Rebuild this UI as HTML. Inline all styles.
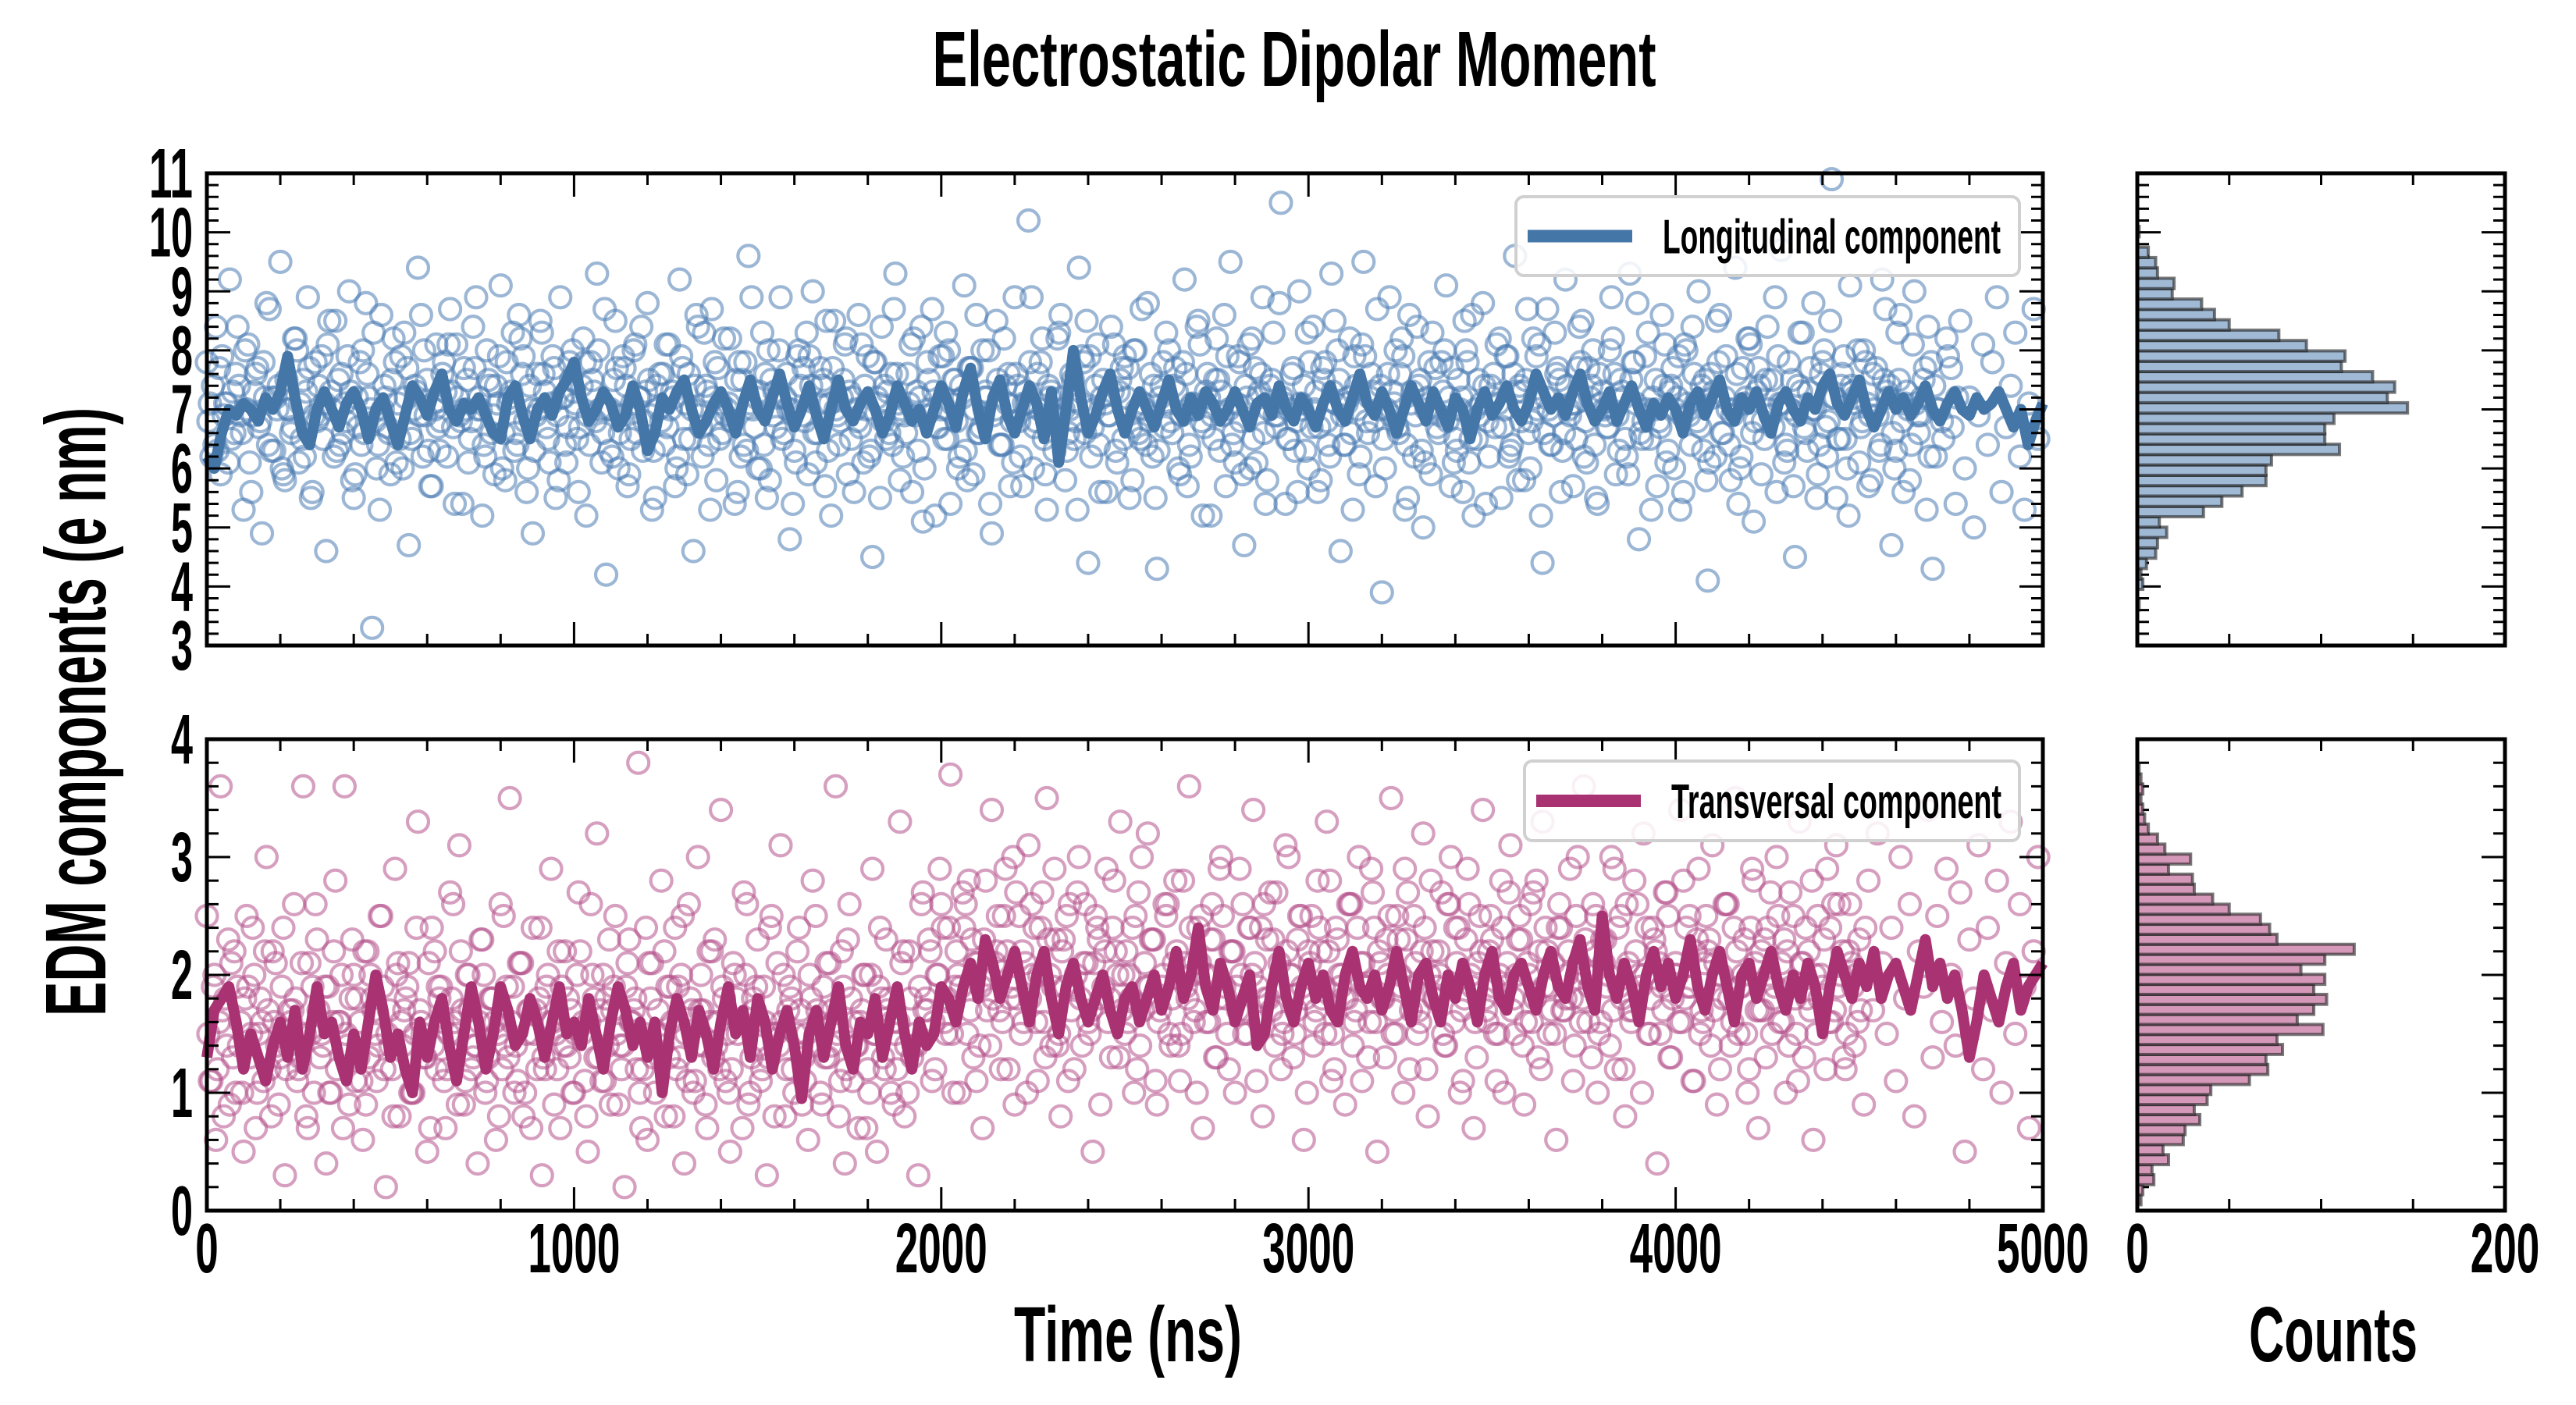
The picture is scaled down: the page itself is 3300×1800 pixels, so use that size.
<!DOCTYPE html>
<html><head><meta charset="utf-8"><style>
html,body{margin:0;padding:0;background:#fff}
svg{display:block}
text{font-family:"Liberation Sans Narrow","Liberation Sans",sans-serif;font-weight:bold;fill:#000}
</style></head><body>
<svg id="chart" xmlns="http://www.w3.org/2000/svg" width="3300" height="1800" viewBox="0 0 3300 1800">
<text x="1658" y="110" font-size="100" text-anchor="middle" textLength="927" lengthAdjust="spacingAndGlyphs">Electrostatic Dipolar Moment</text>
<text transform="translate(135,912) rotate(-90)" font-size="110" text-anchor="middle" textLength="780" lengthAdjust="spacingAndGlyphs">EDM components (e nm)</text>
<text x="1445" y="1744" font-size="100" text-anchor="middle" textLength="292" lengthAdjust="spacingAndGlyphs">Time (ns)</text>
<text x="2989" y="1744" font-size="100" text-anchor="middle" textLength="216" lengthAdjust="spacingAndGlyphs">Counts</text>
<g id="layer"></g>
</svg>
<script>
// ---- data ----
const lineTimesStep = 20;
const longLine = [6.2,6.0,6.6,7.0,6.9,7.1,7.0,6.8,7.2,7.0,7.3,7.9,7.2,6.6,6.4,7.0,7.3,7.0,6.7,7.1,7.3,7.0,6.5,7.0,7.2,6.8,6.4,6.9,7.4,7.2,6.9,7.3,7.6,7.0,6.8,7.1,7.0,7.2,6.9,6.6,6.5,7.2,7.4,6.9,6.5,7.0,7.2,6.9,7.3,7.5,7.8,7.2,6.8,7.0,7.3,7.1,6.7,6.9,7.4,7.0,6.3,6.6,7.2,7.0,7.3,7.5,7.0,6.6,6.8,7.1,7.3,7.0,6.6,7.1,7.5,7.0,6.8,7.2,7.6,7.1,6.7,7.0,7.4,6.9,6.5,7.0,7.5,7.0,6.8,7.1,7.3,7.0,6.6,6.9,7.4,7.1,6.8,7.0,6.6,7.0,7.4,7.1,6.7,7.3,7.7,7.0,6.5,7.2,7.5,6.9,6.6,7.0,7.4,7.1,6.5,7.3,6.1,7.0,8.0,7.2,6.6,6.9,7.3,7.6,7.0,6.6,7.0,7.3,7.0,6.7,7.1,7.5,7.0,6.8,7.2,6.9,7.3,7.1,6.8,7.0,7.3,7.0,6.7,7.1,7.2,6.9,7.4,7.0,6.8,7.2,7.0,6.7,7.1,7.4,7.0,6.8,7.2,7.6,7.1,6.9,7.3,7.0,6.6,7.0,7.4,7.1,6.8,7.3,7.0,6.7,7.2,7.0,6.5,7.0,7.3,6.9,7.1,7.4,7.0,6.8,7.1,7.6,7.3,7.0,7.2,6.9,7.3,7.6,7.1,6.8,7.0,7.3,6.8,7.1,7.4,7.0,6.7,7.1,6.9,7.2,7.0,6.6,7.1,7.3,6.9,7.2,7.5,7.0,6.8,7.2,7.0,7.3,6.9,6.6,7.1,7.3,7.0,6.8,7.2,7.0,7.4,7.6,7.1,6.9,7.2,7.5,7.0,6.7,7.0,7.3,7.0,7.2,6.9,7.1,7.4,7.0,6.8,7.1,7.3,7.0,6.9,7.2,7.0,7.1,7.3,7.0,6.7,7.0,6.4,6.8,7.1];
const transLine = [1.3,1.7,1.8,1.9,1.6,1.2,1.5,1.3,1.1,1.4,1.6,1.3,1.7,1.2,1.5,1.9,1.5,1.6,1.3,1.1,1.5,1.2,1.6,2.0,1.7,1.3,1.5,1.2,1.0,1.6,1.3,1.6,1.8,1.4,1.1,1.5,1.9,1.6,1.2,1.5,1.9,1.7,1.4,1.5,1.8,1.6,1.3,1.6,1.9,1.5,1.6,1.4,1.8,1.5,1.2,1.6,1.9,1.7,1.4,1.6,1.3,1.6,1.0,1.5,1.8,1.6,1.3,1.7,1.5,1.2,1.6,1.9,1.5,1.7,1.3,1.8,1.6,1.2,1.5,1.7,1.4,0.95,1.5,1.7,1.3,1.6,1.9,1.4,1.2,1.6,1.5,1.8,1.3,1.6,1.9,1.5,1.2,1.6,1.4,1.5,1.9,1.8,1.6,1.9,2.1,1.8,2.3,2.1,1.8,2.0,2.2,1.9,1.6,2.0,2.2,1.8,1.5,1.9,2.1,1.8,1.6,1.8,2.0,1.7,1.5,1.8,1.9,1.6,1.8,2.0,1.7,1.9,2.2,1.8,2.0,2.4,1.9,1.7,2.1,1.9,1.6,1.8,2.0,1.4,1.5,1.9,2.2,1.8,1.6,1.9,2.1,1.8,2.0,1.7,1.6,2.0,2.2,1.9,1.8,2.0,1.7,1.9,2.2,1.9,1.6,2.0,2.1,1.8,1.6,2.0,1.8,2.1,1.9,1.6,2.0,2.2,1.8,1.7,2.0,2.1,1.9,1.7,2.0,2.2,1.9,1.8,2.1,2.3,1.9,1.7,2.5,2.0,1.8,2.1,1.9,1.6,2.0,2.2,1.9,2.1,1.8,2.0,2.3,1.9,1.7,2.0,2.2,1.9,1.6,2.0,2.1,1.8,2.0,2.2,1.9,1.7,2.0,1.8,2.1,1.9,1.5,1.9,2.2,2.0,1.8,2.1,1.9,2.2,1.8,2.0,2.1,1.9,1.7,2.0,2.3,1.9,2.1,1.8,2.0,1.7,1.3,1.6,2.0,1.8,1.6,1.9,2.1,1.7,1.9,2.0,2.1];
const scatterStep = 12.5;
const longPts = [7.8,6.2,8.4,5.9,7.1,9.2,6.6,7.4,5.3,8.1,6.9,7.7,4.9,8.8,6.3,7.2,9.5,5.8,7.0,8.2,6.1,7.5,8.9,5.6,6.8,7.9,4.6,7.3,8.5,6.4,7.1,9.0,5.5,6.7,8.0,7.6,3.3,6.0,8.6,7.2,5.9,7.8,6.5,8.3,4.7,7.0,9.4,6.2,7.5,5.7,8.1,6.8,7.3,8.7,5.4,6.9,7.7,6.1,8.4,7.0,5.2,8.0,6.6,7.4,9.1,5.8,7.2,6.3,8.6,7.9,6.0,4.9,7.6,8.3,6.7,7.1,5.5,8.9,6.4,7.8,7.3,5.6,8.2,6.9,7.5,9.3,6.1,4.2,7.0,8.5,6.6,7.7,5.9,8.0,7.2,6.3,8.8,5.3,7.4,6.8,8.1,7.0,5.7,9.2,6.5,7.6,4.6,8.4,6.2,7.3,8.7,5.8,7.1,6.9,8.2,5.4,7.8,6.4,9.6,7.0,6.0,8.3,5.5,7.5,6.7,8.9,7.2,4.8,6.3,8.0,7.7,5.9,9.0,6.6,7.4,8.5,5.2,7.0,6.8,8.1,7.3,5.6,8.6,6.1,7.9,4.5,7.2,8.4,6.5,7.6,9.3,5.8,6.9,7.1,8.2,6.3,5.1,7.8,8.7,6.7,7.0,8.3,5.4,7.5,6.2,9.1,7.7,5.9,6.6,8.0,7.2,4.9,8.5,6.4,7.4,5.7,8.9,6.8,7.1,10.2,6.0,7.6,8.2,5.3,7.3,6.9,8.6,5.8,7.0,6.5,9.4,7.8,4.4,6.7,8.1,7.2,5.6,8.4,6.3,7.5,7.9,5.5,8.0,6.6,7.1,8.8,6.2,4.3,7.4,8.3,6.8,7.7,5.9,9.2,6.4,7.0,8.5,5.2,7.6,6.9,8.2,7.3,5.7,9.5,6.1,7.8,4.7,8.1,6.5,7.2,8.9,5.8,7.5,6.7,10.5,5.4,7.0,6.3,9.0,7.4,6.0,8.4,5.6,7.7,6.8,9.3,7.1,4.6,6.4,8.2,7.9,5.9,9.5,6.6,7.3,8.7,3.9,7.0,6.9,8.0,7.6,5.3,8.6,6.2,7.4,5.0,7.2,8.3,6.7,7.8,9.1,5.7,6.5,7.0,8.5,6.1,5.2,7.5,8.8,6.8,7.2,8.1,5.5,7.9,6.3,9.6,7.4,5.8,6.6,8.2,7.0,4.4,8.7,6.4,7.6,5.6,9.2,6.9,7.1,8.4,6.2,7.7,8.0,5.4,7.3,6.7,8.9,5.9,7.5,6.5,9.3,7.8,4.8,6.8,8.3,7.2,5.7,8.6,6.1,7.4,7.0,5.3,8.1,6.9,7.6,9.0,6.3,4.1,7.2,8.5,6.6,7.9,5.8,9.4,6.0,7.1,8.2,5.1,7.7,6.8,8.4,7.5,5.6,9.7,6.4,7.0,4.5,8.3,6.7,7.3,8.8,5.9,7.8,6.2,10.9,5.5,7.4,6.5,9.1,7.2,6.1,8.0,5.7,7.6,6.9,9.2,7.3,4.7,6.3,8.6,7.1,5.8,9.0,6.6,7.5,8.4,4.3,7.0,6.8,8.2,7.7,5.4,8.5,6.0,7.2,5.0,6.9,8.1,6.4,7.8,8.9,5.6,6.7,7.4,8.3,6.2,5.3,7.1,8.7,6.5];
const longPts2 = [6.8,7.4,6.3,7.9,7.1,6.5,7.6,6.9,8.0,6.1,7.3,6.7,7.8,6.4,7.2,7.0,6.0,7.5,6.6,8.2,7.1,6.2,7.7,6.9,7.4,6.5,8.1,7.0,6.3,7.6,6.8,7.3,5.9,7.8,6.6,7.2,8.3,6.4,7.0,6.7,7.5,6.1,7.9,7.2,6.6,7.4,6.9,8.0,6.3,7.1,6.7,7.6,6.2,7.3,8.1,6.8,7.0,6.5,7.7,7.2,6.4,7.5,6.9,7.1,6.0,7.8,7.3,6.6,8.2,6.8,7.4,6.3,7.0,7.6,6.5,7.9,6.9,7.2,6.1,7.5,7.1,6.7,7.8,6.4,7.3,8.0,6.6,7.0,6.2,7.7,6.9,7.4,6.5,8.1,7.2,6.8,7.5,6.3,7.0,7.6,6.7,7.3,6.0,7.9,7.1,6.5,7.4,6.9,8.3,6.4,7.2,7.7,6.6,7.0,6.8,7.5,6.2,7.8,7.1,6.7,7.3,6.4,8.0,6.9,7.2,6.5,7.6,7.0,6.1,7.4,6.8,7.9,6.6,7.1,7.5,6.3,7.7,6.9,7.2,8.2,6.5,7.0,6.7,7.4,6.2,7.8,7.1,6.8,7.3,6.4,7.6,7.0,6.6,8.1,6.9,7.2,6.0,7.5,7.3,6.7,7.9,6.5,7.1,6.8,7.4,6.3,7.7,7.0,6.6,7.2,8.0,6.9,7.5,6.4,7.1,6.8,7.6,6.2,7.3,7.8,6.7,7.0,6.5,7.4,6.9,8.2,7.2,6.3,7.6,6.8,7.1,6.6,7.9,7.0,6.4,7.5,6.9,7.3,6.1,7.7,7.2,6.7,8.0,6.5,7.0,6.8,7.4,6.3,7.8,7.1,6.6,7.3,6.9,7.6,6.2,7.0,8.1,6.7,7.2,6.5,7.5,6.9,7.9,6.4,7.1,6.8,7.4,6.0,7.7,7.3,6.6,7.0,8.3,6.9,7.2,6.5,7.6,6.8,7.1,6.3,7.8,7.0,6.7,7.5,6.4,7.3,8.0,6.9,7.1,6.6,7.4,6.2,7.9,7.2,6.8,7.0,6.5,7.6,7.3,6.7,8.2,6.4,7.1,6.9,7.5,6.1,7.8,7.0,6.6,7.3,6.8,7.7,6.3,7.2,8.0,6.5,7.0,6.9,7.4,6.2,7.6,7.1,6.7,7.9,6.4,7.3,6.8,7.5,6.0,7.2,8.1,6.6,7.0,6.9,7.7,6.3,7.4,7.1,6.5,7.8,6.8,7.2,6.4,7.6,7.0,6.7,8.2,6.9,7.3,6.2,7.5,7.1,6.6,7.9,6.5,7.0,6.8,7.4,6.3,7.7,7.2,6.9,8.0,6.4,7.1,6.7,7.5,6.1,7.3,7.8,6.6,7.0,6.9,7.6,6.2,7.2,8.1,6.8,7.4,6.5,7.0,6.7,7.9,7.1,6.3,7.5,6.9,7.3,6.6,7.7,7.0,6.4,8.0,6.8,7.2,6.5,7.6,6.0,7.4,7.1,6.7,7.8,6.9,7.0,6.3,7.5,7.2,6.6,8.3,6.8,7.3,6.4,7.1,6.9,7.7,6.2,7.4,7.0,6.5,7.9,6.7,7.2];
const longPts3 = [7.1,6.4,7.7,6.9,6.1,7.3,8.4,6.6,7.0,5.6,7.6,6.8,7.2,8.7,6.3,7.4,5.9,7.0,6.7,8.0,6.5,7.3,5.5,7.8,6.9,7.1,8.5,6.2,7.5,6.6,7.9,5.8,7.2,6.4,8.8,7.0,6.8,5.3,7.4,6.6,8.2,7.1,6.0,7.7,6.5,7.3,8.6,6.9,5.7,7.0,6.3,7.8,8.1,6.7,7.2,5.4,7.5,6.8,8.9,7.0,6.2,7.4,5.9,7.9,6.6,7.1,8.3,6.4,7.6,5.6,7.0,6.9,8.5,7.3,6.1,7.7,5.8,7.2,6.7,8.0,6.5,7.4,5.2,7.8,6.8,7.0,8.7,6.3,7.5,6.0,7.9,5.7,7.1,6.6,8.4,7.3,6.9,5.5,7.6,6.4,8.1,7.2,6.2,7.7,5.9,7.0,8.6,6.7,7.4,5.3,7.8,6.5,8.2,7.1,6.8,5.6,7.5,6.3,8.9,7.2,6.0,7.6,5.8,7.3,8.0,6.6,7.0,5.4,7.9,6.9,8.3,7.4,6.1,7.7,5.7,7.1,8.5,6.4,7.5,5.9,7.2,6.8,8.1,7.0,6.3,7.8,5.5,7.4,6.6,8.7,7.1,6.2,7.6,5.6,7.3,8.4,6.9,7.0,5.2,7.9,6.5,8.0,7.5,6.0,7.2,5.8,7.7,8.6,6.7,7.3,5.4,7.0,6.4,8.2,7.6,6.1,7.4,5.7,7.1,8.9,6.8,7.8,5.9,7.2,6.3,8.3,7.0,6.6,7.5,5.3,7.9,8.5,6.2,7.4,5.6,7.1,6.9,8.1,7.3,6.5,7.7,5.8,7.0,8.7,6.4,7.6,5.5,7.2,6.7,8.0,7.4,6.0,7.8,5.7,7.1,8.4,6.8,7.3,5.2,7.5,6.3,8.6,7.0,6.6,7.9,5.9,7.2,8.2,6.1,7.6,5.4,7.4,6.9,8.8,7.1,6.5,7.7,5.6,7.0,8.3,6.7,7.3,5.8,7.8,6.2,8.5,7.5,6.4,7.2,5.3,7.0,8.1,6.8,7.6,5.7,7.4,6.0,8.9,7.1,6.6,7.9,5.5,7.3,8.4,6.3,7.0,5.9,7.7,6.9,8.0,7.2,6.1,7.5,5.6,7.8,8.6,6.5,7.1,5.4,7.4,6.7,8.2,7.0,6.2,7.6,5.8,7.3,8.7,6.8,7.9,5.2,7.2,6.4,8.3,7.5,6.6,7.0,5.7,7.7,8.5,6.1,7.4,5.5,7.1,6.9,8.0,7.6,6.3,7.2,5.9,7.8,8.8,6.5,7.0,5.3,7.5,6.7,8.1,7.3,6.0,7.9,5.6,7.1,8.4,6.8,7.4,5.8,7.6,6.2,8.6,7.2,6.4,7.0,5.4,7.7,8.2,6.6,7.3,5.9,7.5,6.9,8.9,7.1,6.1,7.8,5.7,7.4,8.3,6.3,7.0,5.5,7.6,6.7,8.5,7.2,6.5,7.9,5.2,7.3,8.0,6.8,7.1,5.8,7.7,6.4,8.7,7.4,6.0,7.5,5.6,7.0,8.1,6.9,7.2,5.3,7.8,6.2];
const transPts = [2.5,1.1,0.6,3.6,1.8,0.9,2.2,1.4,0.5,1.9,2.4,1.0,1.6,3.0,0.8,2.1,1.3,0.3,1.7,2.6,1.2,3.6,0.7,1.9,2.3,1.5,0.4,1.0,2.8,1.6,3.6,0.9,2.0,1.3,0.6,2.2,1.8,1.1,2.5,0.2,1.4,2.9,0.8,1.7,2.1,1.0,3.3,1.5,0.5,2.4,1.2,1.9,0.7,2.7,1.6,3.1,0.9,2.0,1.3,0.4,2.3,1.1,1.8,0.6,2.6,1.4,3.5,1.0,2.1,0.8,1.7,2.4,1.2,0.3,1.9,2.9,1.5,0.7,2.2,1.3,1.0,2.7,1.6,0.5,2.0,3.2,1.1,1.8,0.9,2.5,1.4,0.2,2.3,1.7,3.8,1.2,0.6,2.1,1.5,2.8,0.8,1.9,2.4,1.3,0.4,2.6,1.0,3.0,1.7,0.7,2.2,1.4,3.4,1.1,0.5,2.0,1.6,2.7,0.9,1.8,2.3,1.2,0.3,2.5,1.5,3.1,0.8,1.9,1.0,2.4,1.3,0.6,2.8,1.7,0.9,2.1,1.4,3.6,1.1,0.4,2.6,1.6,0.7,2.0,1.2,2.9,0.5,1.8,2.3,1.0,1.5,3.3,0.8,2.2,1.4,0.3,2.7,1.7,1.1,2.0,2.6,1.5,3.7,1.9,1.0,2.4,2.8,1.3,2.1,0.7,1.7,3.4,2.2,1.2,2.9,1.8,0.9,2.5,1.6,3.1,2.0,1.1,2.7,3.5,1.4,2.3,0.8,1.9,2.6,1.2,3.0,2.1,1.6,0.5,2.4,1.8,2.9,1.3,2.2,3.3,1.5,2.0,1.0,2.7,1.7,3.2,2.3,0.9,1.9,2.5,1.4,2.8,1.1,2.1,3.6,1.6,2.4,0.7,2.0,2.6,1.3,3.0,1.8,2.2,1.0,2.9,1.5,2.4,3.4,1.9,0.8,2.3,1.7,2.7,1.2,3.1,2.0,1.5,2.5,0.6,2.2,1.4,2.8,1.8,3.3,1.1,2.4,1.9,0.9,2.6,1.6,3.0,2.1,1.3,2.7,0.5,1.8,2.3,3.5,1.5,2.0,2.9,1.2,2.5,1.7,3.2,0.8,2.2,1.9,2.7,1.4,3.0,2.4,1.0,1.8,2.6,0.7,2.1,3.4,1.6,2.3,1.1,2.8,1.9,3.1,1.5,2.5,0.9,2.0,2.7,1.3,3.3,2.2,1.7,0.6,2.4,1.8,2.9,1.4,2.1,3.6,1.6,2.6,1.0,2.3,1.9,3.0,1.2,2.5,0.8,1.7,2.8,2.0,3.2,1.5,2.4,0.4,1.9,2.7,1.3,2.1,3.4,1.8,2.5,1.1,2.9,1.6,2.2,3.1,0.9,2.0,2.6,1.4,3.5,1.9,2.3,1.2,2.8,0.7,1.7,2.4,1.5,3.0,2.1,1.0,2.7,1.8,3.3,1.3,2.2,0.6,2.5,1.9,2.9,1.6,3.1,2.0,1.2,2.6,1.4,2.3,0.9,2.8,1.7,3.2,2.1,1.5,2.4,1.1,3.0,1.8,2.6,0.8,2.2,1.9,3.4,1.3,2.5,1.6,2.9,2.0,1.4,2.7,0.5,2.3,1.8,3.1,1.2,2.4,1.7,2.8,1.0,2.1,3.3,1.5,2.6,1.9,0.7,2.2,3.0];
const transPts2 = [1.5,1.9,1.2,1.7,1.4,2.1,1.0,1.6,1.8,1.3,2.0,1.5,1.1,1.7,2.2,1.4,1.9,1.2,1.6,1.8,1.3,1.5,2.1,1.0,1.7,1.4,1.9,1.6,1.2,2.0,1.5,1.8,1.1,1.6,2.2,1.3,1.7,1.4,1.9,1.5,1.2,2.0,1.6,1.8,1.0,1.5,1.7,1.3,2.1,1.4,1.9,1.6,1.2,1.8,1.5,2.2,1.1,1.7,1.4,1.6,2.0,1.3,1.8,1.5,1.2,1.9,1.6,1.4,2.1,1.0,1.7,1.5,1.8,1.3,2.0,1.6,1.2,1.9,1.4,1.7,1.5,2.2,1.1,1.6,1.8,1.3,2.0,1.4,1.7,1.5,1.2,1.9,1.6,1.8,1.0,1.5,2.1,1.3,1.7,1.4,1.9,1.6,1.2,2.0,1.5,1.8,1.1,1.7,1.4,2.2,1.3,1.6,1.9,1.5,1.2,1.8,1.6,2.0,1.0,1.7,1.4,1.9,1.3,1.5,2.1,1.6,1.2,1.8,1.5,1.7,1.1,2.0,1.4,1.6,1.9,1.3,1.7,1.5,2.2,1.2,1.8,1.4,1.6,2.0,1.0,1.5,1.9,1.3,1.7,1.6,1.2,2.1,1.4,1.8,1.5,1.9,1.7,2.3,1.6,2.0,2.4,1.8,1.5,2.2,1.9,2.6,1.7,2.1,1.4,2.3,2.0,1.8,2.5,1.6,2.2,1.9,2.7,1.5,2.1,1.8,2.4,2.0,1.6,2.3,1.9,1.4,2.2,2.5,1.7,2.0,1.8,2.6,1.5,2.1,2.3,1.9,1.6,2.4,2.0,1.7,2.2,1.8,2.5,1.4,2.1,1.9,2.3,1.6,2.0,2.6,1.8,2.2,1.5,1.9,2.4,1.7,2.1,2.0,1.6,2.3,1.8,2.5,1.5,2.2,1.9,2.0,1.7,2.4,2.1,1.6,2.6,1.8,2.3,1.9,1.5,2.2,2.0,1.7,2.5,1.8,2.1,1.6,2.4,1.9,2.2,1.5,2.3,2.0,1.8,2.6,1.7,2.1,1.9,1.6,2.4,2.2,1.8,2.0,1.5,2.5,1.9,2.3,1.7,2.1,1.6,2.4,2.0,1.8,2.2,1.5,2.6,1.9,2.1,1.7,2.3,2.0,1.6,2.5,1.8,2.2,1.9,1.5,2.4,2.1,1.7,2.0,2.3,1.6,2.6,1.8,2.2,1.9,1.5,2.1,2.4,1.7,2.0,1.8,2.5,1.6,2.3,1.9,2.2,1.5,2.1,2.0,1.7,2.4,1.8,2.6,1.6,2.2,1.9,2.0,1.5,2.3,2.1,1.7,2.5,1.8,2.0,1.6,2.4,1.9,2.2,1.5,2.1,2.3,1.7,2.0,1.8,2.6,1.6,2.2,1.9,1.5,2.4,2.1,1.7,2.3,2.0,1.8,2.5,1.6,2.2,1.9,1.5,2.1,2.4,1.7,2.0,1.8,2.3,1.6,2.6,1.9,2.2,1.5,2.1,2.0,1.7,2.4];
const transPts3 = [1.1,2.0,1.6,0.8,2.3,1.3,1.9,1.0,2.5,1.5,0.7,1.8,2.2,1.2,1.6,0.9,2.4,1.4,1.7,1.1,2.1,0.8,1.5,2.6,1.3,1.9,1.0,2.2,1.6,0.7,1.4,2.3,1.8,1.1,0.9,2.0,1.5,2.5,1.2,1.7,0.8,2.1,1.4,1.9,1.0,2.4,1.6,1.3,0.7,2.2,1.8,1.1,1.5,2.6,0.9,1.7,2.0,1.2,1.4,2.3,1.0,1.8,1.6,0.8,2.5,1.3,1.9,1.1,2.1,1.5,0.7,1.7,2.4,1.2,1.6,0.9,2.2,1.4,1.8,1.0,2.0,1.5,0.8,2.6,1.3,1.7,1.1,2.3,1.9,0.9,1.4,2.1,1.6,1.2,0.7,2.4,1.8,1.0,1.5,2.2,1.3,0.8,1.9,2.5,1.1,1.7,1.4,2.0,0.9,1.6,2.3,1.2,1.8,1.0,2.1,1.5,0.7,2.6,1.3,1.9,1.1,1.6,2.4,0.8,1.4,2.0,1.7,1.2,2.2,0.9,1.5,1.8,2.5,1.0,1.3,2.1,1.6,0.8,1.9,2.3,1.1,1.4,1.7,0.7,2.0,1.5,2.4,1.2,1.8,0.9,1.6,2.2,1.0,1.3,1.4,2.6,1.8,2.2,1.2,2.9,1.6,2.4,1.0,2.0,2.7,1.5,2.3,1.1,1.9,2.8,1.4,2.1,1.7,2.5,1.2,3.0,1.8,2.2,1.0,2.6,1.6,2.4,1.3,2.0,2.9,1.5,2.3,1.1,1.9,2.7,1.4,2.1,1.7,2.5,0.9,2.2,1.8,2.8,1.3,2.0,1.6,2.4,1.2,3.0,1.9,2.3,1.1,1.7,2.6,1.5,2.1,1.4,2.8,1.8,2.0,1.0,2.5,1.6,2.3,1.3,2.9,1.9,1.2,2.2,1.7,2.6,1.5,2.0,1.1,2.4,1.8,2.7,1.4,2.1,1.6,3.0,1.3,2.3,1.9,1.0,2.5,1.7,2.2,1.5,2.8,1.2,2.0,1.8,2.6,1.4,2.4,1.1,1.9,2.9,1.6,2.1,1.3,2.5,1.7,2.3,1.0,2.7,1.9,1.5,2.2,1.2,2.8,1.8,2.0,1.4,2.6,1.6,2.4,1.1,2.9,1.9,1.3,2.2,1.7,2.5,1.5,2.0,1.0,2.7,1.8,2.3,1.4,2.1,1.6,2.8,1.2,2.4,1.9,1.5,2.6,1.7,2.2,1.1,3.0,1.8,2.0,1.3,2.5,1.6,2.3,1.4,2.9,1.9,1.2,2.1,1.7,2.6,1.0,2.4,1.8,2.2,1.5,2.7,1.3,2.0,1.6,2.8,1.9,1.1,2.3,1.7,2.5,1.4,2.1,1.2,2.6,1.8,2.4,1.5,2.0,1.0,2.9,1.7,2.2,1.3,2.7,1.9,1.6,2.3,1.4,2.5,1.1,2.1,1.8,2.8,1.5,2.0,1.2,2.4,1.7,2.6,1.3,2.2,1.9,1.6];
const longHistStart = 3.6, longHistWidth = 6.5/37;
const longHist = [1,0,6,10,11,20,19,35,42,50,77,92,113,111,128,140,136,147,107,102,102,110,73,70,70,57,46,36,12,16,11,10,5,2,3,0,1].reverse();
const transHistStart = 0.05, transHistWidth = 3.74/44;
const transHist = [1,2,3,2,3,4,6,11,15,29,17,30,31,41,50,67,72,76,118,102,89,102,96,103,96,87,101,76,79,70,71,61,40,38,31,34,26,25,14,17,8,9,3,2].reverse();
const xTicks = [0,1000,2000,3000,4000,5000];
const topYTicks = [3,4,5,6,7,8,9,10,11];
const botYTicks = [0,1,2,3,4];
const histXTicks = [0,200];

// ---- layout ----
const NS = "http://www.w3.org/2000/svg";
const layer = document.getElementById('layer');
const MX0 = 265, MX1 = 2617, HX0 = 2738, HX1 = 3209;
const TOP = {y0: 222, y1: 827, min: 3, max: 11};
const BOT = {y0: 947, y1: 1551, min: 0, max: 4};
const xT = t => MX0 + (t / 5000) * (MX1 - MX0);
const xH = c => HX0 + (c / 200) * (HX1 - HX0);
const yS = (p, v) => p.y1 - (v - p.min) / (p.max - p.min) * (p.y1 - p.y0);

function el(tag, attrs, parent) {
  const e = document.createElementNS(NS, tag);
  for (const k in attrs) e.setAttribute(k, attrs[k]);
  (parent || layer).appendChild(e);
  return e;
}
function label(txt, x, y, anchor, size, tl) {
  const t = el('text', {x: x, y: y, 'font-size': size, 'text-anchor': anchor, textLength: tl, lengthAdjust: 'spacingAndGlyphs'});
  t.textContent = txt;
  return t;
}

function panel(p, ptSets, line, color, ptColor, hist, hStart, hW, hFill, legendText, legendBox, prefix) {
  const g = el('g', {});
  
  
  const sg = el('g', {fill: 'none', stroke: ptColor, 'stroke-width': 4.2, 'stroke-opacity': 0.55}, g);
  
  
  ptSets.forEach((pts, k) => {
    const off = k * scatterStep / ptSets.length;
    pts.forEach((v, i) => {
      const c = el('circle', {cx: xT(i * scatterStep + off), cy: yS(p, v), r: 13.5}, sg);
      
      
    });
  });
  const d = line.map((v, i) => (i ? 'L' : 'M') + xT(i * lineTimesStep).toFixed(1) + ',' + yS(p, v).toFixed(1)).join('');
  const ln = el('path', {d: d, fill: 'none', stroke: color, 'stroke-width': 14, 'stroke-linejoin': 'round'}, g);
  
  
  const tg = el('g', {stroke: '#000', 'stroke-width': 3}, g);
  for (let t = 0; t <= 5000; t += 200) {
    const L = t % 1000 === 0 ? 30 : 15;
    el('line', {x1: xT(t), x2: xT(t), y1: p.y1, y2: p.y1 - L}, tg);
    el('line', {x1: xT(t), x2: xT(t), y1: p.y0, y2: p.y0 + L}, tg);
  }
  for (let v = p.min; v <= p.max + 1e-6; v += 0.2) {
    const major = Math.abs(v - Math.round(v)) < 1e-6;
    const L = major ? 30 : 15;
    const y = yS(p, v);
    el('line', {x1: MX0, x2: MX0 + L, y1: y, y2: y}, tg);
    el('line', {x1: MX1, x2: MX1 - L, y1: y, y2: y}, tg);
    el('line', {x1: HX0, x2: HX0 + L, y1: y, y2: y}, tg);
    el('line', {x1: HX1, x2: HX1 - L, y1: y, y2: y}, tg);
  }
  for (let c = 0; c <= 200; c += 50) {
    el('line', {x1: xH(c), x2: xH(c), y1: p.y1, y2: p.y1 - 15}, tg);
    el('line', {x1: xH(c), x2: xH(c), y1: p.y0, y2: p.y0 + 15}, tg);
  }
  const hg = el('g', {fill: hFill, stroke: 'rgba(30,30,30,0.6)', 'stroke-width': 4}, g);
  
  
  hist.forEach((c, i) => {
    if (!c) return;
    const yTop = yS(p, hStart + (i + 1) * hW), yBot = yS(p, hStart + i * hW);
    const r = el('rect', {x: HX0, y: yTop, width: xH(c) - HX0, height: yBot - yTop}, hg);
    
    
  });
  const f1 = el('rect', {x: MX0, y: p.y0, width: MX1 - MX0, height: p.y1 - p.y0, fill: 'none', stroke: '#000', 'stroke-width': 5}, g);
  
  
  const f2 = el('rect', {x: HX0, y: p.y0, width: HX1 - HX0, height: p.y1 - p.y0, fill: 'none', stroke: '#000', 'stroke-width': 5}, g);
  
  
  const lg = el('g', {}, g);
  
  
  el('rect', {x: legendBox.x, y: legendBox.y, width: legendBox.w, height: legendBox.h, rx: 10, fill: 'rgba(255,255,255,0.85)', stroke: '#d0d0d0', 'stroke-width': 4}, lg);
  el('rect', {x: legendBox.x + 15, y: legendBox.y + legendBox.h / 2 - 8, width: 134, height: 16, fill: color}, lg);
  const lt = el('text', {x: legendBox.x + 188, y: legendBox.y + legendBox.h / 2 + 22, 'font-size': 62, textLength: legendBox.tl, lengthAdjust: 'spacingAndGlyphs'}, lg);
  lt.textContent = legendText;
}

panel(TOP, [longPts, longPts2, longPts3], longLine, '#4476a8', '#4a7cb2', longHist, longHistStart, longHistWidth, '#a0b9d5',
  'Longitudinal component', {x: 1942, y: 252, w: 645, h: 101, tl: 433}, 'longitudinal');
panel(BOT, [transPts, transPts2, transPts3], transLine, '#a83272', '#b5508a', transHist, transHistStart, transHistWidth, '#d598b9',
  'Transversal component', {x: 1953, y: 975, w: 634, h: 102, tl: 423}, 'transversal');

topYTicks.forEach(v => { const t = label(String(v), 247, yS(TOP, v) + 31, 'end', 90, String(v).length * 28);
    });
botYTicks.forEach(v => { const t = label(String(v), 247, yS(BOT, v) + 31, 'end', 90, String(v).length * 28);
    });
xTicks.forEach(v => { const t = label(String(v), xT(v), 1630, 'middle', 90, String(v).length * 29.5);
    });
histXTicks.forEach(v => { const t = label(String(v), xH(v), 1630, 'middle', 90, String(v).length * 29.5);
    });
</script>
</body></html>
